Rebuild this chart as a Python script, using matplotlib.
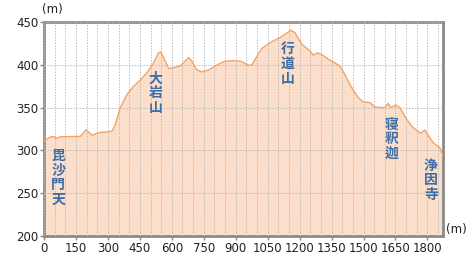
import matplotlib.pyplot as plt
from matplotlib.ticker import MultipleLocator

plt.rcParams['font.family'] = ['DejaVu Sans', 'Noto Sans CJK JP']

# distance along the trail (m) and elevation (m)
dist = [0, 30, 45, 62, 77, 116, 171, 198, 226, 257, 296, 320, 335, 358, 390,
        421, 452, 484, 515, 538, 549, 565, 585, 624, 640, 663, 679, 694, 715,
        741, 772, 804, 843, 889, 929, 960, 976, 999, 1022, 1061, 1108, 1147,
        1158, 1178, 1210, 1249, 1265, 1283, 1304, 1335, 1358, 1389, 1412, 1444,
        1475, 1499, 1530, 1553, 1585, 1600, 1616, 1627, 1652, 1671, 1702, 1733,
        1768, 1788, 1803, 1827, 1858, 1873]
elev = [311, 315.7, 316, 314, 316, 316, 316.5, 324, 317.6, 320.8, 321.5, 322.5,
        330.5, 350, 365.5, 375, 382, 391, 402.5, 414, 415, 406.4, 395.6, 397.4,
        398.6, 404.4, 408.4, 404.4, 394.7, 391.6, 393.9, 398.6, 403.7, 404.9,
        403.7, 399.4, 400, 409.6, 418.9, 425.9, 431.8, 438.3, 440.3, 437.6, 424,
        416, 411, 414, 412, 406.4, 403.3, 398.6, 388.9, 373.4, 361.7, 356.5,
        355.8, 350.7, 350, 350, 355, 350, 353, 350, 336.3, 326.6, 320, 323.8,
        317.6, 309, 303.3, 293.5]

# place names (vertical text), position in data coords
places = ["毘沙門天", "大岩山", "行道山", "寝釈迦", "浄因寺"]
place_x = [67, 522, 1142, 1634, 1816]
place_y = [268, 367, 401, 313, 265]

fig = plt.figure(figsize=(4.73, 2.63), dpi=100)
ax = fig.add_axes([44 / 473, 27 / 263, 399 / 473, 214 / 263])

ax.fill_between(dist, 200, elev, color="#fbdfca", linewidth=0, zorder=1)
ax.plot(dist, elev, color="#f4a263", linewidth=1.0, zorder=3)

ax.set_xlim(0, 1873)
ax.set_ylim(200, 450)
ax.xaxis.set_major_locator(MultipleLocator(150))
ax.xaxis.set_minor_locator(MultipleLocator(50))
ax.yaxis.set_major_locator(MultipleLocator(50))

ax.set_axisbelow(False)
ax.grid(True, which="minor", axis="x", color="#bbbbbb", linestyle=(0, (1.5, 1.5)), linewidth=0.7)
ax.grid(True, which="major", axis="both", color="#bbbbbb", linestyle=(0, (1.5, 1.5)), linewidth=0.7)

for sp in ax.spines.values():
    sp.set_color("#8a8a8a")
    sp.set_linewidth(2)

ax.tick_params(which="major", length=3, width=1, color="#8a8a8a", labelsize=8.5, pad=1, labelcolor="#222222")
ax.tick_params(which="minor", length=0)

for name, x, y in zip(places, place_x, place_y):
    ax.text(x, y, "\n".join(name), color="#3b6ea8", fontsize=10, fontweight="bold",
            ha="center", va="center", linespacing=1.07,
            family=["Noto Sans CJK JP", "DejaVu Sans"], zorder=4)

fig.text(52 / 473, 1 - 10 / 263, "(m)", fontsize=8.5, ha="center", va="center", color="#222222")
fig.text(456 / 473, 1 - 230 / 263, "(m)", fontsize=8.5, ha="center", va="center", color="#222222")

fig.savefig("out.png", dpi=100, facecolor="white")
